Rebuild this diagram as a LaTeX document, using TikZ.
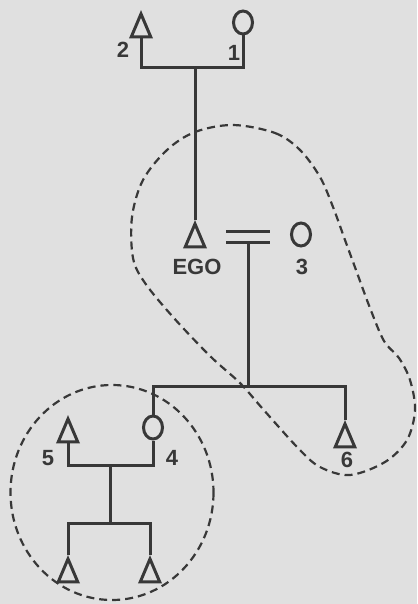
\documentclass[tikz,border=0pt]{standalone}
\usepackage{fontspec}
\setmainfont{Liberation Sans}
\usetikzlibrary{shapes.geometric}
\definecolor{ink}{HTML}{383838}
\definecolor{paper}{HTML}{E0E0E0}
\begin{document}
\begin{tikzpicture}[x=1pt,y=-1pt,
  male/.style={draw=ink, line width=3pt, isosceles triangle, shape border rotate=90,
    isosceles triangle stretches, minimum width=19.5pt, minimum height=23pt, inner sep=0pt, anchor=apex},
  female/.style={draw=ink, line width=3pt, ellipse, minimum width=19pt, minimum height=23pt, inner sep=0pt},
  lbl/.style={text=ink, font=\fontsize{22}{26}\selectfont\bfseries, inner sep=0pt},
  kin/.style={draw=ink, line width=3pt},
  grp/.style={draw=ink, line width=2.2pt, dash pattern=on 8pt off 5pt}]
\fill[paper] (0,0) rectangle (417,604);
\useasboundingbox (0,0) rectangle (417,604);
% individuals
\node[male] (t2) at (141,10) {};
\node[female] (c1) at (243,22.5) {};
\node[male] (ego) at (195,220) {};
\node[female] (c3) at (301,234.5) {};
\node[female] (c4) at (153,427.5) {};
\node[male] (t5) at (68,415) {};
\node[male] (t6) at (345,420) {};
\node[male] (t7) at (68,555) {};
\node[male] (t8) at (150,555) {};
% marriage sign
\node[minimum width=43pt, minimum height=10pt, inner sep=0pt] (mar) at (248,237) {};
% junctions
\coordinate (p1) at (195,68);
\coordinate (p2) at (248,386);
\coordinate (p3) at (110,465);
\coordinate (p4) at (110,523);
% labels
\node[lbl] (l2) at (123,50) {2};
\node[lbl] (l1) at (234,53) {1};
\node[lbl] (lego) at (197,267) {EGO};
\node[lbl] (l3) at (302,267) {3};
\node[lbl] (l5) at (48,458) {5};
\node[lbl] (l4) at (172,458) {4};
\node[lbl] (l6) at (347,460) {6};
% kinship lines
\draw[kin] (t2.lower side) |- (p1) -| (c1.south);
\draw[kin] (p1) -- (ego.apex);
\draw[kin] (mar.north west) -- (mar.north east);
\draw[kin] (mar.south west) -- (mar.south east);
\draw[kin] (mar.south) -- (p2);
\draw[kin] (c4.north) |- (p2) -| (t6.apex);
\draw[kin] (t5.lower side) |- (p3);
\draw[kin] (c4.south) |- (p3);
\draw[kin] (p3) -- (p4);
\draw[kin] (t7.apex) |- (p4) -| (t8.apex);
% groupings
\draw[grp] (112,492.5) ellipse [x radius=101.5, y radius=107.5];
\draw[grp] plot[smooth cycle, tension=0.55] coordinates {
  (233,125) (275,133) (300,150) (320,177) (333,207) (345,240) (356,270) (370,308)
  (384,341) (399,358) (410,380) (415,410) (407,440) (385,462) (350,475) (320,467)
  (298,448) (262,408) (240,383) (210,356) (173,317) (145,283) (133,258) (132,217)
  (143,180) (167,150) (195,132)};
\end{tikzpicture}
\end{document}
